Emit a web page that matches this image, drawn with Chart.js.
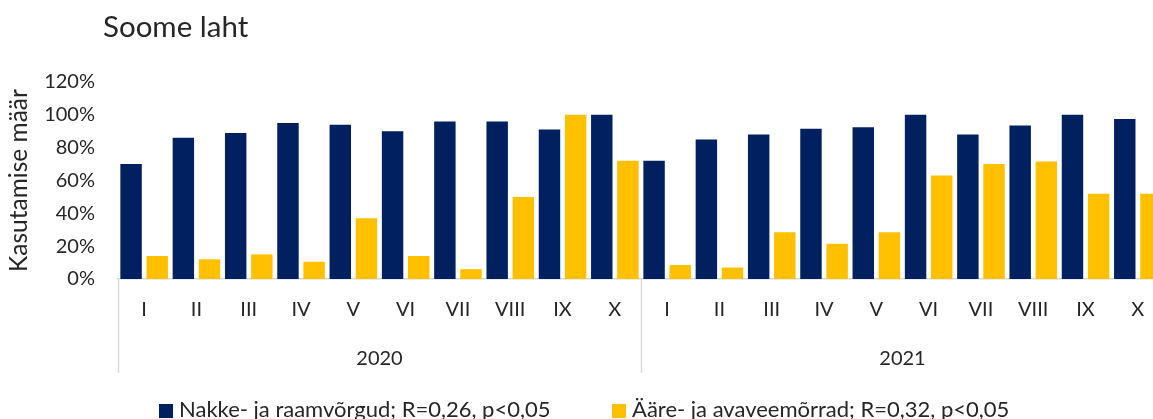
<!DOCTYPE html>
<html>
<head>
<meta charset="utf-8">
<script src="https://cdn.jsdelivr.net/npm/chart.js@4/dist/chart.umd.min.js"></script>
<style>
  html, body { margin: 0; padding: 0; background: #fff; overflow: hidden; }
  #wrap { position: relative; width: 1153px; height: 419px; overflow: hidden; font-family: Lato, sans-serif; }
  #chart { position: absolute; left: 0; top: 0; }
  #title { position: absolute; left: 103px; top: 11px; font-size: 29.5px; line-height: 29px; color: #262626; white-space: nowrap; }
  .item { position: absolute; top: 396px; font-size: 22px; line-height: 26px; color: #262626; white-space: nowrap; }
  .item span.box { display: inline-block; width: 14px; height: 14px; margin-right: 6px; vertical-align: -1px; }
</style>
</head>
<body>
<div id="wrap">
  <canvas id="chart" width="1164" height="419"></canvas>
  <div id="title">Soome laht</div>
</div>
<script>
const months = ['I', 'II', 'III', 'IV', 'V', 'VI', 'VII', 'VIII', 'IX', 'X'];
const years = ['2020', '2021'];

const seriesNames = ['Nakke- ja raamvõrgud; R=0,26, p<0,05', 'Ääre- ja avaveemõrrad; R=0,32, p<0,05'];
const nakke = [70, 86, 89, 95, 94, 90, 96, 96, 91, 100,
               72, 85, 88, 91.5, 92.5, 100, 88, 93.5, 100, 97.5];
const aare = [14, 12, 15, 10.5, 37, 14, 6, 50, 100, 72,
              8.5, 7, 28.5, 21.5, 28.5, 63, 70, 71.5, 52, 52];

const navy = '#002060';
const yellow = '#FFC000';
const lineGrey = '#d9d9d9';
const textColor = '#262626';
const legendLeft = [159, 612];

const labels = [];
years.forEach(y => months.forEach(m => labels.push(m)));

// year separators under the axis
const separators = {
    id: 'separators',
    afterDraw(chart) {
        const ctx = chart.ctx;
        const x = chart.scales.x;
        const top = chart.chartArea.bottom;
        const bottom = top + 94;
        const step = (x.right - x.left) / labels.length;
        ctx.save();
        ctx.strokeStyle = lineGrey;
        ctx.lineWidth = 1.5;
        [0, months.length, labels.length].forEach(i => {
            const px = Math.round(x.left + i * step) + 0.5;
            ctx.beginPath();
            ctx.moveTo(px, top);
            ctx.lineTo(px, bottom);
            ctx.stroke();
        });
        ctx.restore();
    }
};

const tickFont = { family: 'Lato', size: 20 };

new Chart(document.getElementById('chart'), {
    type: 'bar',
    data: {
        labels: labels,
        datasets: [
            { label: seriesNames[0], data: nakke, backgroundColor: navy, barPercentage: 0.82, categoryPercentage: 1.0 },
            { label: seriesNames[1], data: aare, backgroundColor: yellow, barPercentage: 0.82, categoryPercentage: 1.0 }
        ]
    },
    options: {
        responsive: false,
        animation: false,
        layout: { padding: { top: 82, bottom: 42, left: 0, right: 0 } },
        plugins: {
            legend: { display: false },
            title: { display: false },
            tooltip: { enabled: false }
        },
        scales: {
            x: {
                grid: { display: false, drawTicks: false },
                border: { color: lineGrey, width: 1.5 },
                ticks: { color: textColor, padding: 19, font: tickFont, maxRotation: 0, autoSkip: false }
            },
            x2: {
                type: 'category',
                labels: years,
                position: 'bottom',
                weight: 1,
                offset: true,
                grid: { display: false, drawTicks: false },
                border: { display: false },
                ticks: { color: textColor, padding: 6, font: tickFont }
            },
            y: {
                min: 0,
                max: 120,
                afterFit(scale) { scale.width = 118; },
                grid: { display: false, drawTicks: false },
                border: { display: false },
                ticks: {
                    stepSize: 20,
                    color: textColor,
                    padding: 23,
                    font: tickFont,
                    callback: v => v + '%'
                },
                title: {
                    display: true,
                    text: 'Kasutamise määr',
                    color: textColor,
                    font: { family: 'Lato', size: 24.5 },
                    padding: { top: 4, bottom: 0 }
                }
            }
        }
    },
    plugins: [separators]
});

// legend as html
const wrap = document.getElementById('wrap');
[navy, yellow].forEach((c, i) => {
    const item = document.createElement('div');
    item.className = 'item';
    item.style.left = legendLeft[i] + 'px';
    item.innerHTML = '<span class="box" style="background:' + c + '"></span>';
    item.appendChild(document.createTextNode(seriesNames[i]));
    wrap.appendChild(item);
});
</script>
</body>
</html>
